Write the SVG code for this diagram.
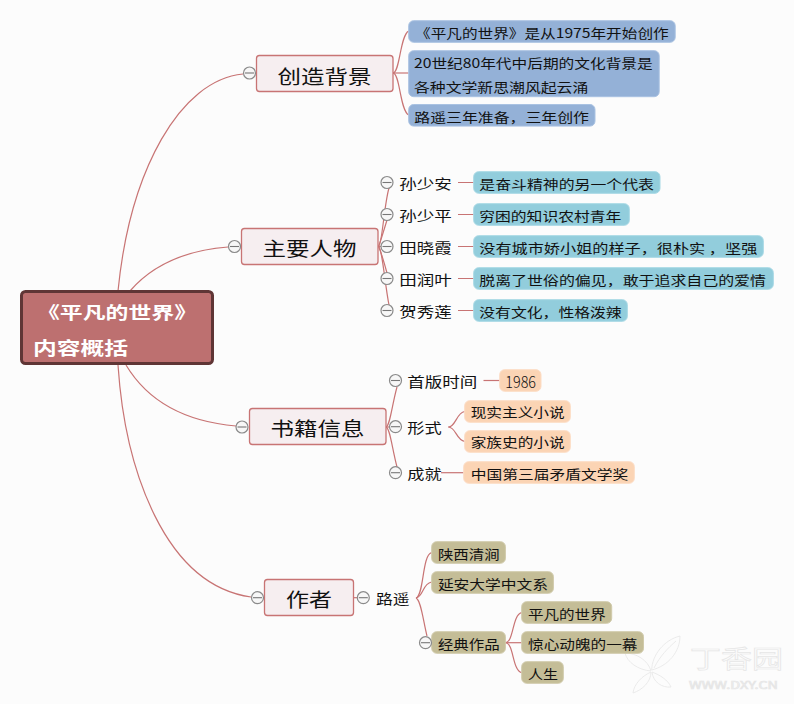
<svg xmlns="http://www.w3.org/2000/svg" width="794" height="704" viewBox="0 0 794 704">
<defs>
<style>
text{font-family:"Noto Sans CJK SC","Noto Sans CJK JP",sans-serif;dominant-baseline:central;fill:#111}
.lnk{fill:none;stroke:#c87474;stroke-width:1.2}
.topic rect{fill:#f6eef0;stroke:#c87474;stroke-width:1.3}
.topic text{font-size:19px;font-weight:400}
.sub text{font-size:14px}
.leaf text{font-size:13px}
.blue rect{fill:#94b1d7;stroke:#a9c2e2}
.teal rect{fill:#92cddc;stroke:#a6d8e4}
.orange rect{fill:#fbd4b4;stroke:#fcdcc4}
.khaki rect{fill:#c4bd97;stroke:#d0caaa}
.tc{fill:#f7f7f7;stroke:#8a8a8a;stroke-width:1.2}
.tm{stroke:#777;stroke-width:1.1;fill:none}
.mark path{fill:none;stroke:#e9e9e9;stroke-width:.9}
.mark text{fill:#fcfcfc;stroke:#e6e6e6;stroke-width:.7}
</style>
<g id="t"><circle class="tc" r="6"/><path class="tm" d="M-4.5 0H4.5"/></g>
</defs>
<rect width="794" height="704" fill="#fcfcfc"/>
<g id="watermark" class="mark">
<path d="M651.7 670C652 655 664 640 680 636C680 652 668 666 651.7 670ZM654 668C660 656 668 648 676 641"/>
<path d="M651 671C638 670 627 662 625 653C636 653 648 660 651 671Z"/>
<path d="M651 672C642 676 634 684 633 693C642 690 651 682 651 672Z"/>
<path d="M652 672C660 675 668 680 671 687C662 688 653 682 652 672Z"/>
<text x="690" y="657" font-size="25" textLength="93" lengthAdjust="spacingAndGlyphs">丁香园</text>
<text x="689" y="684" font-size="10" textLength="89" lengthAdjust="spacingAndGlyphs">WWW.DXY.CN</text>
</g>
<g id="connectors" class="lnk">
<path d="M118 291C130 170 180 80 243 74"/>
<path d="M130 291C155 262 190 250 228 247"/>
<path d="M126 365C150 405 190 422 236 426"/>
<path d="M118 365C125 470 165 585 251 597"/>
<path d="M393 73C400 73 400 35 408.7 31"/>
<path d="M393 73H408.7"/>
<path d="M393 73C400 73 400 111 408.7 115"/>
<path d="M378.5 246.5C382 246 384 205 389 188"/>
<path d="M378.5 246.5C381 240 384 230 387 220"/>
<path d="M378.5 246.5H382"/>
<path d="M378.5 246.5C381 252 384 262 387 273"/>
<path d="M378.5 246.5C382 247 385 285 389 305"/>
<path d="M458 182.5H473.7M458 214.5H473.7M458 246.5H473.7M458 278.5H473.7M458 310.5H473.7"/>
<path d="M386 427C390 426 392 405 397 387"/>
<path d="M386 427H390"/>
<path d="M386 427C390 428 392 448 397 467"/>
<path d="M483.5 380.5H499.7"/>
<path d="M448.3 427C456 427 456 413 464.7 411.5"/>
<path d="M448.3 427C456 427 456 440 464.7 441.5"/>
<path d="M441 472.7H463.7"/>
<path d="M354 597.7H358"/>
<path d="M416 598C424 596 422 555 431.5 552.7"/>
<path d="M416 598C424 596 422 584 431.5 582"/>
<path d="M416 598C421 600 423 620 427 636"/>
<path d="M505.4 642.7C514 642 512 615 521.6 612.7"/>
<path d="M505.4 642.7H521.6"/>
<path d="M505.4 642.7C514 643 512 670 521.6 672.7"/>
</g>
<g id="root">
<rect x="21.5" y="291.5" width="191" height="72" rx="4" fill="#bd7070" stroke="#5f3535" stroke-width="3"/>
<text x="37" y="311.5" font-size="17" font-weight="700" style="fill:#fff" textLength="160" lengthAdjust="spacingAndGlyphs">《平凡的世界》</text>
<text x="33" y="347" font-size="18" font-weight="700" style="fill:#fff" textLength="95" lengthAdjust="spacingAndGlyphs">内容概括</text>
</g>
<g id="topic1" class="topic"><rect x="256.5" y="55.5" width="136.5" height="36" rx="3"/><text x="277.5" y="75" textLength="94" lengthAdjust="spacingAndGlyphs">创造背景</text><use href="#t" x="249.5" y="73"/></g>
<g id="topic2" class="topic"><rect x="241.5" y="228.5" width="136.5" height="36" rx="3"/><text x="262.5" y="247.5" textLength="94" lengthAdjust="spacingAndGlyphs">主要人物</text><use href="#t" x="234.5" y="246.5"/></g>
<g id="topic3" class="topic"><rect x="249.5" y="408.5" width="136.5" height="36" rx="3"/><text x="270.5" y="427.5" textLength="94" lengthAdjust="spacingAndGlyphs">书籍信息</text><use href="#t" x="242" y="427"/></g>
<g id="topic4" class="topic"><rect x="264.5" y="579.5" width="89" height="36" rx="3"/><text x="286" y="598.5" textLength="46" lengthAdjust="spacingAndGlyphs">作者</text><use href="#t" x="257.5" y="597.7"/></g>

<g id="b1" class="leaf blue"><rect x="408.7" y="20.7" width="266.5" height="21.6" rx="5"/><text x="415" y="32" textLength="253.7" lengthAdjust="spacingAndGlyphs">《平凡的世界》是从1975年开始创作</text></g>
<g id="b2" class="leaf blue"><rect x="408.7" y="50.7" width="250.5" height="46" rx="5"/><text x="414" y="62" textLength="238.7" lengthAdjust="spacingAndGlyphs">20世纪80年代中后期的文化背景是</text><text x="414" y="86.5" textLength="174.3" lengthAdjust="spacingAndGlyphs">各种文学新思潮风起云涌</text></g>
<g id="b3" class="leaf blue"><rect x="408.7" y="104.5" width="186.3" height="21.6" rx="5"/><text x="414.3" y="116.2" textLength="174.7" lengthAdjust="spacingAndGlyphs">路遥三年准备，三年创作</text></g>

<g id="p1" class="sub"><text x="399.3" y="183" textLength="52.4" lengthAdjust="spacingAndGlyphs">孙少安</text><use href="#t" x="387" y="182.5"/></g>
<g id="p2" class="sub"><text x="399.3" y="215" textLength="52.4" lengthAdjust="spacingAndGlyphs">孙少平</text><use href="#t" x="387" y="214.5"/></g>
<g id="p3" class="sub"><text x="399.3" y="247" textLength="52.4" lengthAdjust="spacingAndGlyphs">田晓霞</text><use href="#t" x="387" y="246.5"/></g>
<g id="p4" class="sub"><text x="399.3" y="279" textLength="52.4" lengthAdjust="spacingAndGlyphs">田润叶</text><use href="#t" x="387" y="278.5"/></g>
<g id="p5" class="sub"><text x="399.3" y="311" textLength="52.4" lengthAdjust="spacingAndGlyphs">贺秀莲</text><use href="#t" x="387" y="310.5"/></g>

<g id="t1" class="leaf teal"><rect x="473.7" y="171.7" width="186.3" height="21.6" rx="5"/><text x="479.3" y="183" textLength="174.7" lengthAdjust="spacingAndGlyphs">是奋斗精神的另一个代表</text></g>
<g id="t2" class="leaf teal"><rect x="473.7" y="203.7" width="155.6" height="21.6" rx="5"/><text x="479.3" y="215" textLength="142" lengthAdjust="spacingAndGlyphs">穷困的知识农村青年</text></g>
<g id="t3" class="leaf teal"><rect x="473.7" y="235.7" width="289.6" height="21.6" rx="5"/><text x="479.3" y="247" textLength="278" lengthAdjust="spacingAndGlyphs">没有城市娇小姐的样子，很朴实 ，坚强</text></g>
<g id="t4" class="leaf teal"><rect x="473.7" y="267.7" width="299.6" height="21.6" rx="5"/><text x="479.3" y="279" textLength="286.7" lengthAdjust="spacingAndGlyphs">脱离了世俗的偏见，敢于追求自己的爱情</text></g>
<g id="t5" class="leaf teal"><rect x="473.7" y="299.7" width="153.6" height="21.6" rx="5"/><text x="479.3" y="311" textLength="142.4" lengthAdjust="spacingAndGlyphs">没有文化，性格泼辣</text></g>

<g id="s1" class="sub"><text x="407.3" y="381" textLength="70" lengthAdjust="spacingAndGlyphs">首版时间</text><use href="#t" x="395.5" y="380.5"/></g>
<g id="s2" class="sub"><text x="407.3" y="427" textLength="34.4" lengthAdjust="spacingAndGlyphs">形式</text><use href="#t" x="395.5" y="426.7"/></g>
<g id="s3" class="sub"><text x="407.3" y="473" textLength="34.4" lengthAdjust="spacingAndGlyphs">成就</text><use href="#t" x="395.5" y="472.7"/></g>

<g id="o1" class="leaf orange"><rect x="499.7" y="369.7" width="41.3" height="21.6" rx="5"/><text x="505.3" y="381" style="font-size:16px;font-weight:300" textLength="30.7" lengthAdjust="spacingAndGlyphs">1986</text></g>
<g id="o2" class="leaf orange"><rect x="464.7" y="400.7" width="105.6" height="21.6" rx="5"/><text x="470.7" y="411.8" textLength="94" lengthAdjust="spacingAndGlyphs">现实主义小说</text></g>
<g id="o3" class="leaf orange"><rect x="464.7" y="430.7" width="105.6" height="21.6" rx="5"/><text x="470.7" y="441.5" textLength="94" lengthAdjust="spacingAndGlyphs">家族史的小说</text></g>
<g id="o4" class="leaf orange"><rect x="463.7" y="461.7" width="170.6" height="21.6" rx="5"/><text x="470.7" y="473.2" textLength="157.6" lengthAdjust="spacingAndGlyphs">中国第三届矛盾文学奖</text></g>

<g id="a0" class="sub"><text x="376" y="597.5" textLength="33.6" lengthAdjust="spacingAndGlyphs">路遥</text><use href="#t" x="363.3" y="597.7"/></g>
<g id="k1" class="leaf khaki"><rect x="431.7" y="541.7" width="73.7" height="21.6" rx="5"/><text x="437.9" y="553.2" textLength="61.8" lengthAdjust="spacingAndGlyphs">陕西清涧</text></g>
<g id="k2" class="leaf khaki"><rect x="431.7" y="571.7" width="121.7" height="21.6" rx="5"/><text x="437.9" y="583.2" textLength="110" lengthAdjust="spacingAndGlyphs">延安大学中文系</text></g>
<g id="k3" class="leaf khaki"><rect x="431.7" y="631.7" width="73.7" height="21.6" rx="5"/><text x="437.9" y="643" textLength="61.8" lengthAdjust="spacingAndGlyphs">经典作品</text><use href="#t" x="425.5" y="642.7"/></g>
<g id="k4" class="leaf khaki"><rect x="521.7" y="601.7" width="90" height="21.6" rx="5"/><text x="528" y="613.2" textLength="77.7" lengthAdjust="spacingAndGlyphs">平凡的世界</text></g>
<g id="k5" class="leaf khaki"><rect x="521.7" y="631.7" width="121.8" height="21.6" rx="5"/><text x="528" y="643.2" textLength="109.5" lengthAdjust="spacingAndGlyphs">惊心动魄的一幕</text></g>
<g id="k6" class="leaf khaki"><rect x="521.7" y="661.7" width="41.6" height="21.6" rx="5"/><text x="528" y="673.2" textLength="30" lengthAdjust="spacingAndGlyphs">人生</text></g>
</svg>
